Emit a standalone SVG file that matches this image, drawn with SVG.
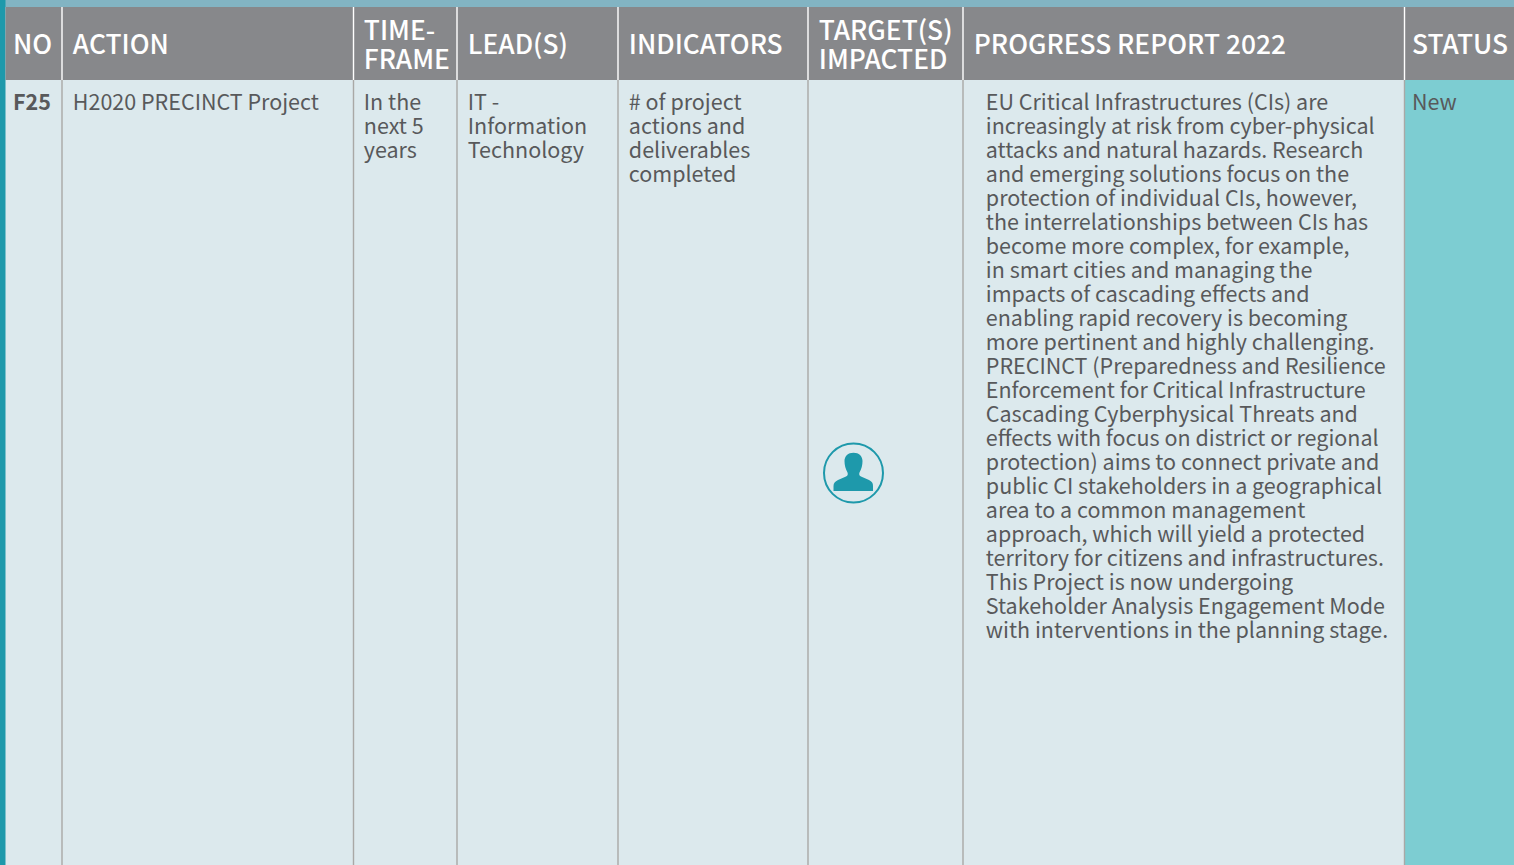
<svg xmlns="http://www.w3.org/2000/svg" width="1514" height="865" viewBox="0 0 1514 865">
<style>
text{font-family:"Noto Sans CJK SC","Source Sans Pro","Noto Sans",sans-serif}
.h{font-size:26.350px;font-weight:500;fill:#fff}
.b{font-size:21.500px;fill:#58595b}
.w{stroke:#fff;stroke-width:1.400}
.g{stroke:#a9a8a6;stroke-width:1.400}
</style>
<rect id="page" width="1514" height="865" fill="#dce9ed"/>
<rect id="topband" width="1514" height="7" fill="#82b4c3"/>
<rect id="leftband" y="0" width="5.500" height="865" fill="#1e99ab"/>
<rect id="statuscell" x="1405" y="80" width="109" height="785" fill="#7dcdd2"/>
<rect id="header" x="5.500" y="7" width="1508.500" height="73" fill="#87888b"/>
<g id="rules">
<path class="w" d="M62 7V80M353.500 7V80M457 7V80M618 7V80M808 7V80M963 7V80M1404.500 7V80"/>
<path class="g" d="M62 80V865M353.500 80V865M457 80V865M618 80V865M808 80V865M963 80V865M1404.500 80V865"/>
</g>
<g id="head-text">
<text class="h" x="13" y="54.300">NO</text>
<text class="h" x="72.800" y="54.300">ACTION</text>
<text class="h" x="363.800" y="40.300">TIME-</text>
<text class="h" x="363.800" y="69.300">FRAME</text>
<text class="h" x="467.800" y="54.300">LEAD(S)</text>
<text class="h" x="628.800" y="54.300">INDICATORS</text>
<text class="h" x="818.800" y="40.300">TARGET(S)</text>
<text class="h" x="818.800" y="69.300">IMPACTED</text>
<text class="h" x="973.800" y="54.300">PROGRESS REPORT 2022</text>
<text class="h" x="1412" y="54.300">STATUS</text>
</g>
<g id="row-text">
<text class="b" x="13" y="110.400" style="font-weight:700">F25</text>
<text class="b" x="72.800" y="110.400">H2020 PRECINCT Project</text>
<text class="b" x="363.800" y="110.400">In the</text>
<text class="b" x="363.800" y="134.400">next 5</text>
<text class="b" x="363.800" y="158.400">years</text>
<text class="b" x="467.800" y="110.400">IT -</text>
<text class="b" x="467.800" y="134.400">Information</text>
<text class="b" x="467.800" y="158.400">Technology</text>
<text class="b" x="628.800" y="110.400"># of project</text>
<text class="b" x="628.800" y="134.400">actions and</text>
<text class="b" x="628.800" y="158.400">deliverables</text>
<text class="b" x="628.800" y="182.400">completed</text>
<text class="b" x="1412" y="110.400">New</text>
</g>
<g id="progress">
<text class="b" x="985.800" y="110.400">EU Critical Infrastructures (CIs) are</text>
<text class="b" x="985.800" y="134.400">increasingly at risk from cyber-physical</text>
<text class="b" x="985.800" y="158.400">attacks and natural hazards. Research</text>
<text class="b" x="985.800" y="182.400">and emerging solutions focus on the</text>
<text class="b" x="985.800" y="206.400">protection of individual CIs, however,</text>
<text class="b" x="985.800" y="230.400">the interrelationships between CIs has</text>
<text class="b" x="985.800" y="254.400">become more complex, for example,</text>
<text class="b" x="985.800" y="278.400">in smart cities and managing the</text>
<text class="b" x="985.800" y="302.400">impacts of cascading effects and</text>
<text class="b" x="985.800" y="326.400">enabling rapid recovery is becoming</text>
<text class="b" x="985.800" y="350.400">more pertinent and highly challenging.</text>
<text class="b" x="985.800" y="374.400">PRECINCT (Preparedness and Resilience</text>
<text class="b" x="985.800" y="398.400">Enforcement for Critical Infrastructure</text>
<text class="b" x="985.800" y="422.400">Cascading Cyberphysical Threats and</text>
<text class="b" x="985.800" y="446.400">effects with focus on district or regional</text>
<text class="b" x="985.800" y="470.400">protection) aims to connect private and</text>
<text class="b" x="985.800" y="494.400">public CI stakeholders in a geographical</text>
<text class="b" x="985.800" y="518.400">area to a common management</text>
<text class="b" x="985.800" y="542.400">approach, which will yield a protected</text>
<text class="b" x="985.800" y="566.400">territory for citizens and infrastructures.</text>
<text class="b" x="985.800" y="590.400">This Project is now undergoing</text>
<text class="b" x="985.800" y="614.400">Stakeholder Analysis Engagement Mode</text>
<text class="b" x="985.800" y="638.400">with interventions in the planning stage.</text>
</g>
<g id="icon">
<circle cx="853.500" cy="473" r="29.500" fill="none" stroke="#1e99ab" stroke-width="2"/>
<path fill="#1e99ab" d="M833.500 491V486C833.500 483 835 481.500 838 480L846 476.500C848 475.500 848 474 847.500 472.500C845.500 469 844.500 465 844.500 461C844.500 456 848 452.700 853.500 452.700C859 452.700 862.500 456 862.500 461C862.500 465 861.500 469 859.500 472.500C859 474 859 475.500 861 476.500L869 480C872 481.500 873 483 873 486V491Z"/>
</g>
</svg>
